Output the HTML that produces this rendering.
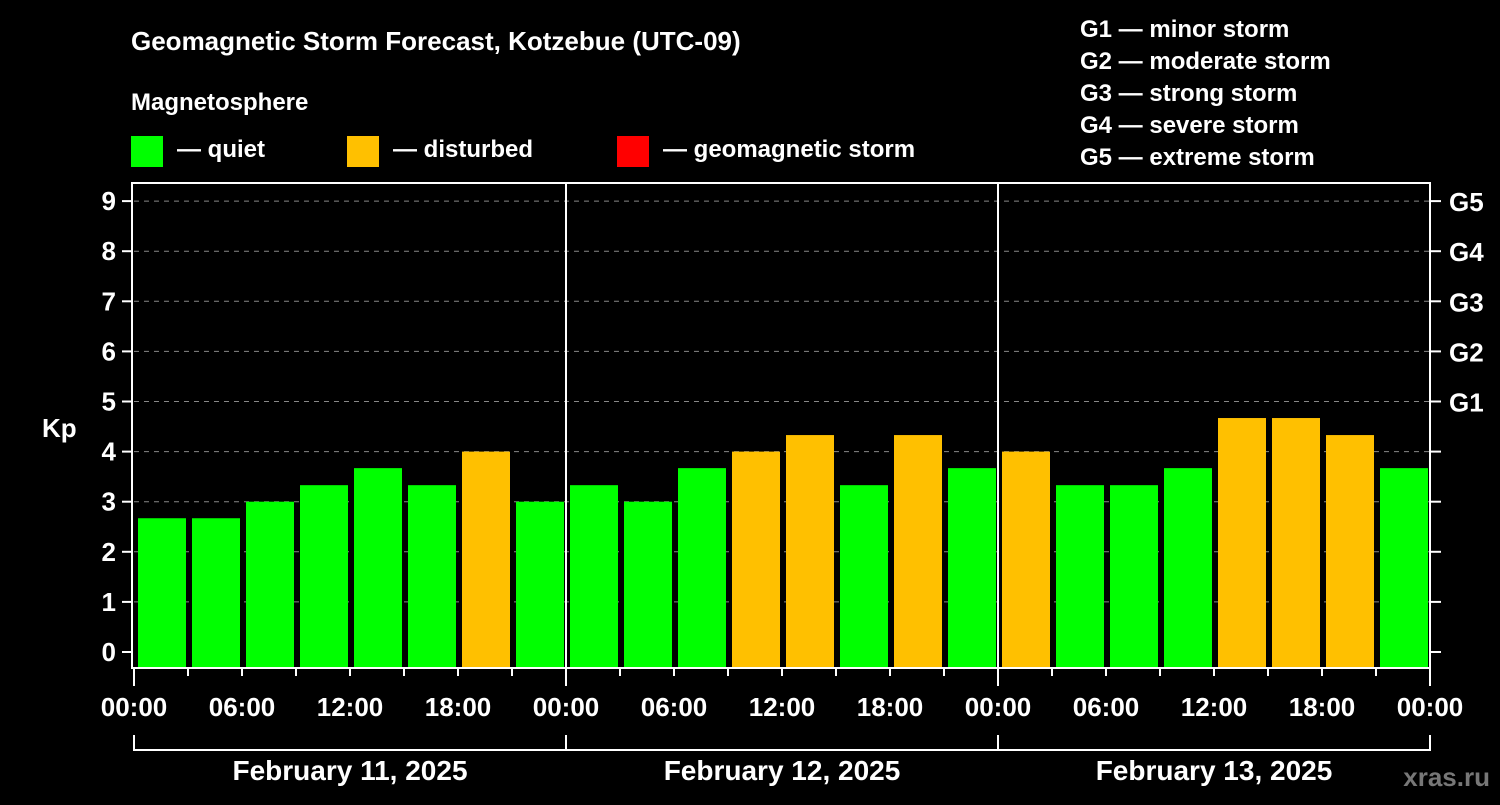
<!DOCTYPE html>
<html><head><meta charset="utf-8"><style>
body{margin:0;background:#000;width:1500px;height:800px;overflow:hidden;font-family:"Liberation Sans",sans-serif}
svg text{font-family:"Liberation Sans",sans-serif;font-weight:bold;fill:#fff}
</style></head><body>
<svg id="c" width="1500" height="800">
<text x="131" y="50" font-size="26">Geomagnetic Storm Forecast, Kotzebue (UTC-09)</text>
<text x="131" y="110" font-size="24">Magnetosphere</text>
<rect x="131" y="136" width="32" height="31" fill="#00ff00"/>
<text x="177" y="157" font-size="24">— quiet</text>
<rect x="347" y="136" width="32" height="31" fill="#ffc000"/>
<text x="393" y="157" font-size="24">— disturbed</text>
<rect x="617" y="136" width="32" height="31" fill="#ff0000"/>
<text x="663" y="157" font-size="24">— geomagnetic storm</text>
<g font-size="24">
<text x="1080" y="37">G1 — minor storm</text>
<text x="1080" y="69">G2 — moderate storm</text>
<text x="1080" y="101">G3 — strong storm</text>
<text x="1080" y="133">G4 — severe storm</text>
<text x="1080" y="165">G5 — extreme storm</text>
</g>
<text x="42" y="437" font-size="26">Kp</text>
<text x="1490" y="786" font-size="26" text-anchor="end" fill="#777" style="fill:#777">xras.ru</text>
<g id="plot"></g>
</svg>
<script>
const kpValues=[2.67,2.67,3,3.33,3.67,3.33,4,3, 3.33,3,3.67,4,4.33,3.33,4.33,3.67, 4,3.33,3.33,3.67,4.67,4.67,4.33,3.67];
const dayLabels=["February 11, 2025","February 12, 2025","February 13, 2025"];
const kpTicks=[0,1,2,3,4,5,6,7,8,9];
const gLabels=["G1","G2","G3","G4","G5"];
const hourLabels=["00:00","06:00","12:00","18:00"];
const NS="http://www.w3.org/2000/svg";
const g=document.getElementById('plot');
const X0=134,X1=1430,YT=183,YB=668;
const nSlots=kpValues.length;
const xs=i=>X0+(X1-X0)*i/nSlots;
const ys=v=>652-v*50.1;
function mk(t,a,txt){const e=document.createElementNS(NS,t);for(const k in a)e.setAttribute(k,a[k]);if(txt!==undefined)e.textContent=txt;g.appendChild(e);return e;}
kpTicks.forEach(k=>{
 if(k>0){const l=mk('line',{x1:X0,x2:X1,y1:ys(k),y2:ys(k),stroke:'#888','stroke-dasharray':'5,5','stroke-width':1});
 
 }
 const t1=mk('line',{x1:122,x2:132,y1:ys(k),y2:ys(k),stroke:'#fff','stroke-width':2});
 
 
 const t2=mk('line',{x1:1430,x2:1441,y1:ys(k),y2:ys(k),stroke:'#fff','stroke-width':2});
 
 
 const tl=mk('text',{x:116,y:ys(k)+9,'font-size':26,'text-anchor':'end'},String(k));
 
 
});
gLabels.forEach((s,i)=>{
 const t=mk('text',{x:1449,y:ys(5+i)+10,'font-size':26},s);
 
 
});
kpValues.forEach((v,i)=>{
 const c=v>=5?'#ff0000':(v>=4?'#ffc000':'#00ff00');
 const r=mk('rect',{x:xs(i)+4,y:ys(v),width:(X1-X0)/nSlots-6,height:YB-ys(v),fill:c});
 
 
});
for(let i=0;i<=nSlots;i++){
 const t=mk('line',{x1:xs(i),x2:xs(i),y1:YB,y2:i%8==0?686:676,stroke:'#fff','stroke-width':2});
 
 
 if(i%2==0){const lab=mk('text',{x:xs(i),y:716,'font-size':26,'text-anchor':'middle'},hourLabels[(i/2)%4]);
 
 }
}
const fr=mk('rect',{x:132,y:YT,width:X1-132,height:YB-YT,fill:'none',stroke:'#fff','stroke-width':2});


dayLabels.forEach((d,i)=>{
 const a=xs(i*8),b=xs(i*8+8);
 if(i>0){const s=mk('line',{x1:a,x2:a,y1:YT,y2:YB,stroke:'#fff','stroke-width':2});
 
 }
 const br=mk('path',{d:`M${a} 735V750H${b}V735`,fill:'none',stroke:'#fff','stroke-width':2});
 
 
 const t=mk('text',{x:(a+b)/2,y:780,'font-size':28,'text-anchor':'middle'},d);
 
 
});
</script>
</body></html>
